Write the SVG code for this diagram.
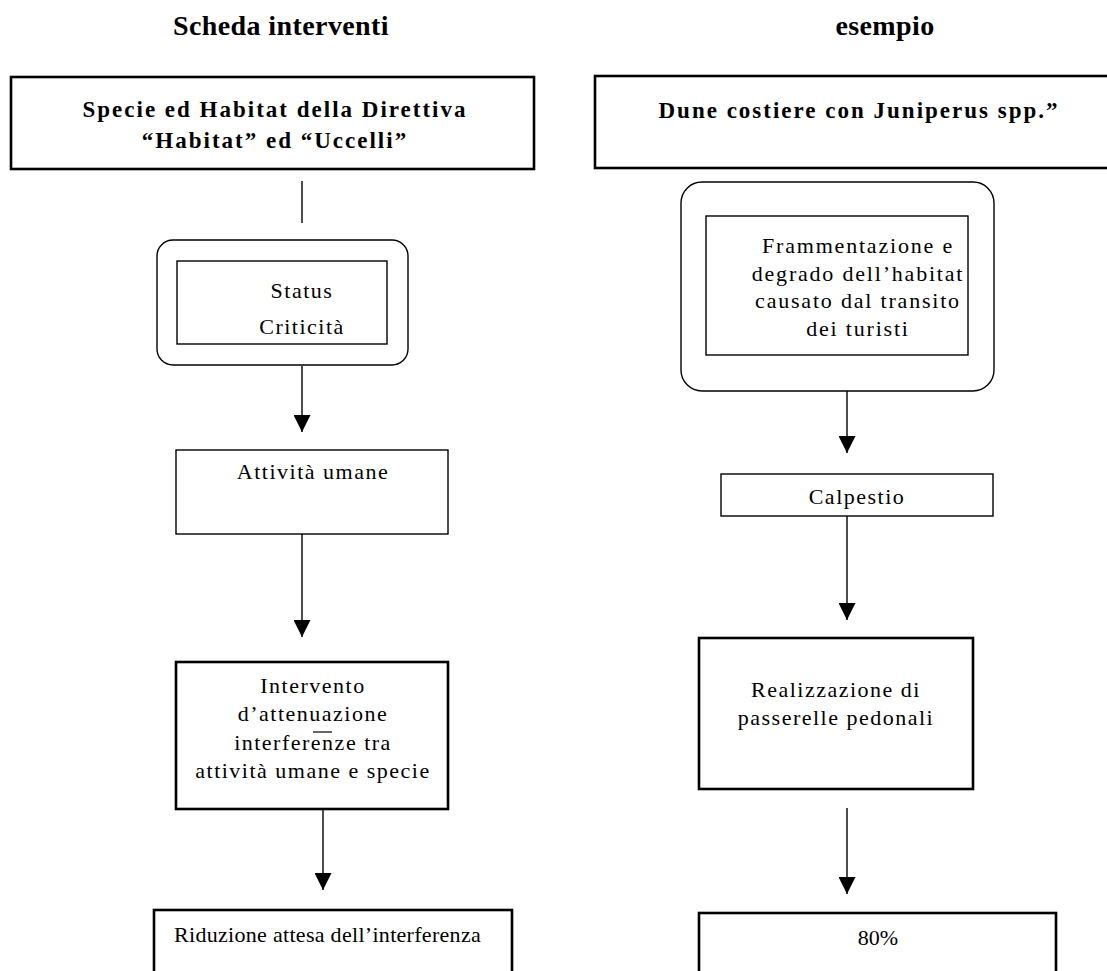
<svg xmlns="http://www.w3.org/2000/svg" width="1107" height="971" viewBox="0 0 1107 971">
<style>
  .t { font-family: "Liberation Serif", "Times New Roman", serif; fill: #000; }
  .title { font-size: 28px; font-weight: bold; letter-spacing: 0.4px; text-anchor: middle; }
  .head { font-size: 23px; font-weight: bold; letter-spacing: 2px; text-anchor: middle; }
  .body { font-size: 22px; letter-spacing: 1.5px; text-anchor: middle; }
  .thin { fill: #fff; stroke: #000; stroke-width: 1.4; }
  .thick { fill: #fff; stroke: #000; stroke-width: 2.6; }
  .conn line { stroke: #000; stroke-width: 1.4; }
</style>
<defs>
  <marker id="arr" markerUnits="userSpaceOnUse" markerWidth="17" markerHeight="17" refX="17" refY="8.5" orient="auto">
    <path d="M0,0 L17,8.5 L0,17 Z" fill="#000"/>
  </marker>
</defs>
<rect width="1107" height="971" fill="#fff"/>

<g id="titles">
  <text class="t title" x="281" y="35">Scheda interventi</text>
  <text class="t title" x="885" y="35">esempio</text>
</g>

<g id="node-specie">
  <rect class="thick" x="11" y="77" width="523" height="92"/>
  <text class="t head" x="275" y="117">Specie ed Habitat della Direttiva</text>
  <text class="t head" x="275" y="148">“Habitat” ed “Uccelli”</text>
</g>

<g id="node-dune">
  <rect class="thick" x="595" y="76" width="530" height="92"/>
  <text class="t head" x="859" y="118">Dune costiere con Juniperus spp.”</text>
</g>

<g id="node-status">
  <rect class="thin" x="157" y="240" width="251" height="125" rx="16" ry="16"/>
  <rect class="thin" x="177" y="261" width="210" height="83"/>
  <text class="t body" x="302" y="298">Status</text>
  <text class="t body" x="302" y="334">Criticità</text>
</g>

<g id="node-frammentazione">
  <rect class="thin" x="681" y="182" width="313" height="209" rx="21" ry="21"/>
  <rect class="thin" x="706" y="216" width="262" height="139"/>
  <text class="t body" x="858" y="253" style="letter-spacing:1.8px">Frammentazione e</text>
  <text class="t body" x="858" y="281" style="letter-spacing:1.8px">degrado dell’habitat</text>
  <text class="t body" x="858" y="308" style="letter-spacing:1.8px">causato dal transito</text>
  <text class="t body" x="858" y="336" style="letter-spacing:1.8px">dei turisti</text>
</g>

<g id="node-attivita">
  <rect class="thin" x="176" y="450" width="272" height="84"/>
  <text class="t body" x="313" y="479">Attività umane</text>
</g>

<g id="node-calpestio">
  <rect class="thin" x="721" y="474" width="272" height="42"/>
  <text class="t body" x="857" y="504">Calpestio</text>
</g>

<g id="node-intervento">
  <rect class="thick" x="176" y="662" width="272" height="147"/>
  <text class="t body" x="313" y="693">Intervento</text>
  <text class="t body" x="313" y="721">d’attenuazione</text>
  <text class="t body" x="313" y="750">interferenze tra</text>
  <line x1="313" y1="732" x2="332" y2="732" stroke="#000" stroke-width="1.2"/>
  <text class="t body" x="313" y="778">attività umane e specie</text>
</g>

<g id="node-realizzazione">
  <rect class="thick" x="699" y="638" width="274" height="151"/>
  <text class="t body" x="836" y="697">Realizzazione di</text>
  <text class="t body" x="836" y="725">passerelle pedonali</text>
</g>

<g id="node-riduzione">
  <rect class="thick" x="154" y="910" width="358" height="80"/>
  <text class="t" x="174" y="942" style="font-size:22px;letter-spacing:0.3px">Riduzione attesa dell’interferenza</text>
</g>

<g id="node-80">
  <rect class="thick" x="699" y="913" width="357" height="80"/>
  <text class="t" x="878" y="945" style="font-size:22px;text-anchor:middle">80%</text>
</g>

<g id="connectors" class="conn">
  <line x1="302" y1="181" x2="302" y2="223"/>
  <line x1="302" y1="366" x2="302" y2="432" marker-end="url(#arr)"/>
  <line x1="302" y1="534" x2="302" y2="637" marker-end="url(#arr)"/>
  <line x1="323" y1="809" x2="323" y2="890" marker-end="url(#arr)"/>
  <line x1="847" y1="391" x2="847" y2="453" marker-end="url(#arr)"/>
  <line x1="847" y1="516" x2="847" y2="620" marker-end="url(#arr)"/>
  <line x1="847" y1="808" x2="847" y2="894" marker-end="url(#arr)"/>
</g>
</svg>
